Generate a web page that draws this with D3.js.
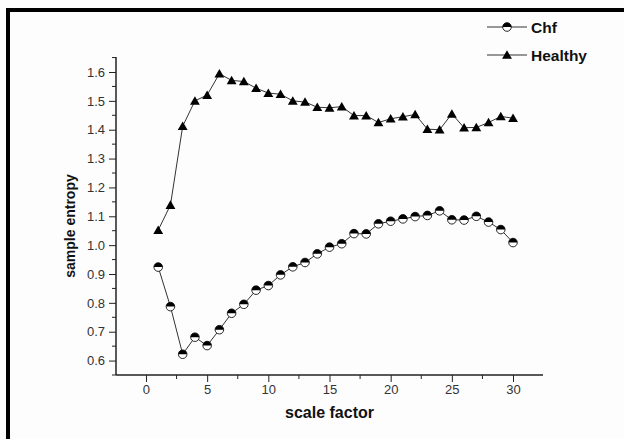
<!DOCTYPE html>
<html><head><meta charset="utf-8">
<script src="https://cdn.jsdelivr.net/npm/d3@7"></script>
<style>html,body{margin:0;padding:0;background:#fff;}svg{display:block;font-family:"Liberation Sans",Arial,sans-serif;}</style>
</head><body>
<svg id="c" width="624" height="439"></svg>
<script>
const scales = d3.range(1, 31);
const chf = [0.924,0.787,0.622,0.681,0.652,0.707,0.764,0.795,0.844,0.860,0.897,0.925,0.940,0.970,0.993,1.005,1.040,1.039,1.074,1.083,1.091,1.099,1.103,1.119,1.088,1.087,1.100,1.080,1.054,1.009];
const healthy = [1.052,1.139,1.412,1.500,1.520,1.594,1.571,1.567,1.544,1.527,1.523,1.500,1.496,1.478,1.476,1.480,1.449,1.449,1.425,1.438,1.445,1.453,1.402,1.400,1.455,1.407,1.408,1.425,1.446,1.440];
const xTicks = [0,5,10,15,20,25,30];
const yTicks = [0.6,0.7,0.8,0.9,1.0,1.1,1.2,1.3,1.4,1.5,1.6];
const seriesNames = ["Chf","Healthy"];

const svg = d3.select("#c");
svg.append("rect").attr("width",624).attr("height",439).attr("fill","#fdfdfd");
// frame
svg.append("rect").attr("x",6).attr("y",8).attr("width",618).attr("height",4).attr("fill","#000");
svg.append("rect").attr("x",6).attr("y",8).attr("width",4).attr("height",431).attr("fill","#000");

const x = d3.scaleLinear().domain([-2.45,32.45]).range([116,543]);
const y = d3.scaleLinear().domain([0.55,1.652]).range([375,57]);

const ax = svg.append("g");
const xMinor = d3.range(-2.5, 33, 2.5).filter(v => v >= -2.45 && v <= 32.45 && !xTicks.includes(v));
ax.selectAll(".xm").data(xMinor).join("line").attr("x1",d=>x(d)).attr("x2",d=>x(d)).attr("y1",375).attr("y2",379).attr("stroke","#222").attr("stroke-width",1);
const yMinor = d3.range(0.55, 1.66, 0.1).map(v=>+v.toFixed(2));
ax.selectAll(".ym").data(yMinor).join("line").attr("y1",d=>y(d)).attr("y2",d=>y(d)).attr("x1",112).attr("x2",116).attr("stroke","#222").attr("stroke-width",1);

const xAxis = d3.axisBottom(x).tickValues(xTicks).tickSize(7).tickPadding(3).tickFormat(d3.format("d"));
const gx = svg.append("g").attr("transform","translate(0,375)").call(xAxis);
gx.select(".domain").attr("stroke","#222").attr("stroke-width",1.5).attr("d","M116,0H543");
gx.selectAll(".tick line").attr("stroke","#222");
gx.selectAll(".tick text").attr("font-size",13).attr("fill","#333").attr("font-family","Liberation Sans, Arial, sans-serif");

const yAxis = d3.axisLeft(y).tickValues(yTicks).tickSize(7).tickPadding(4).tickFormat(d3.format(".1f"));
const gy = svg.append("g").attr("transform","translate(116,0)").call(yAxis);
gy.select(".domain").attr("stroke","#222").attr("stroke-width",1.5).attr("d","M0,"+y(1.652)+"V375");
gy.selectAll(".tick line").attr("stroke","#222");
gy.selectAll(".tick text").attr("font-size",13).attr("fill","#333").attr("font-family","Liberation Sans, Arial, sans-serif");

svg.append("text").attr("x",329.5).attr("y",418).attr("text-anchor","middle").attr("font-size",16).attr("font-weight","bold").attr("fill","#111").text("scale factor");
svg.append("text").attr("transform","translate(75,226) rotate(-90)").attr("text-anchor","middle").attr("font-size",14).attr("font-weight","bold").attr("fill","#111").text("sample entropy");

const line = d3.line().x((d,i)=>x(scales[i])).y(d=>y(d));
svg.append("path").datum(healthy).attr("d",line).attr("fill","none").attr("stroke","#333").attr("stroke-width",1);
svg.append("path").datum(chf).attr("d",line).attr("fill","none").attr("stroke","#333").attr("stroke-width",1);

const tri = d3.symbol().type(d3.symbolTriangle).size(42);
function drawTri(g, cx, cy){
  g.append("path").attr("d",tri()).attr("transform",`translate(${cx},${cy})`).attr("fill","#000");
}
function drawHalf(g, cx, cy){
  const r=4.3;
  const gg=g.append("g").attr("transform",`translate(${cx},${cy})`);
  gg.append("circle").attr("r",r).attr("fill","#fff").attr("stroke","#111").attr("stroke-width",0.9);
  gg.append("path").attr("d",`M${-r},0A${r},${r} 0 0 1 ${r},0Z`).attr("fill","#000");
}
const mk = svg.append("g");
healthy.forEach((v,i)=>drawTri(mk, x(scales[i]), y(v)+1));
chf.forEach((v,i)=>drawHalf(mk, x(scales[i]), y(v)));

const lg = svg.append("g");
const legY = [27, 55];
seriesNames.forEach((n,i)=>{
  lg.append("line").attr("x1",487).attr("x2",527).attr("y1",legY[i]).attr("y2",legY[i]).attr("stroke","#333").attr("stroke-width",1);
  if(i===0) drawHalf(lg,507,legY[i]); else drawTri(lg,507,legY[i]+1);
  lg.append("text").attr("x",531).attr("y",legY[i]+5.5).attr("font-size",15.5).attr("font-weight","bold").attr("fill","#111").text(n);
});
</script>
</body></html>
